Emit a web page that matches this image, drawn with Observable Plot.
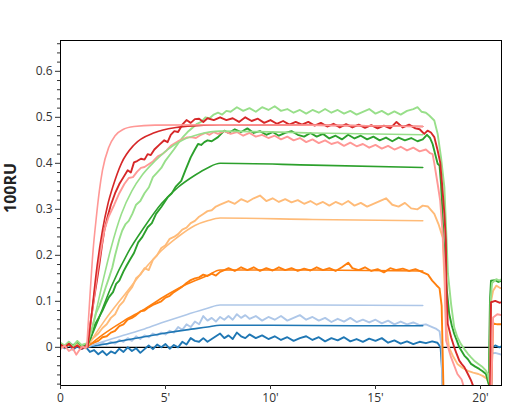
<!DOCTYPE html>
<html>
<head>
<meta charset="utf-8">
<script src="https://cdn.jsdelivr.net/npm/d3@7"></script>
<script src="https://cdn.jsdelivr.net/npm/@observablehq/plot@0.6"></script>
<style>
  html, body { margin: 0; padding: 0; background: #fff; }
  #chart svg { display: block; }
</style>
</head>
<body>
<div id="chart"></div>
<script>
// ---- Tick labels ----
const xTicks = [0, 5, 10, 15, 20];
const yTicks = [0, 0.1, 0.2, 0.3, 0.4, 0.5, 0.6];
const yMinorTicks = [-0.08,-0.06,-0.04,-0.02,0.02,0.04,0.06,0.08,0.12,0.14,0.16,0.18,0.22,0.24,0.26,0.28,0.32,0.34,0.36,0.38,0.42,0.44,0.46,0.48,0.52,0.54,0.56,0.58,0.62,0.64,0.66];
const yLabel = "100RU";

// ---- Series names and colours ----
const seriesNames = ["c1","c2","c3","c4","c5","c6","c7","c8"];
const seriesColors = ["#1f77b4","#aec7e8","#ff7f0e","#ffbb78","#2ca02c","#98df8a","#d62728","#ff9896"];

// ---- Measured responses [time (min), response (100RU)] ----
const data1 = [[0,0.004],[0.2,-0.002],[0.4,0.006],[0.6,-0.005],[0.8,0.002],[1.0,-0.004],[1.2,0.001],[1.4,-0.01],[1.6,-0.006],[1.8,-0.015],[2.0,-0.008],[2.2,-0.017],[2.4,-0.009],[2.6,-0.013],[2.8,-0.003],[3.0,-0.01],[3.2,0.0],[3.4,-0.008],[3.6,-0.002],[3.8,-0.012],[4.0,-0.004],[4.2,0.004],[4.4,-0.004],[4.6,0.006],[4.8,0.0],[5.0,0.007],[5.2,-0.003],[5.4,0.005],[5.6,0.0],[5.8,0.012],[6.0,0.006],[6.2,0.02],[6.4,0.014],[6.6,0.012],[6.8,0.02],[7.0,0.012],[7.2,0.018],[7.4,0.024],[7.6,0.03],[7.8,0.02],[8.0,0.026],[8.2,0.018],[8.4,0.032],[8.6,0.024],[8.8,0.02],[9.0,0.028],[9.3,0.02],[9.6,0.026],[9.9,0.018],[10.2,0.024],[10.5,0.016],[10.8,0.022],[11.1,0.014],[11.4,0.02],[11.7,0.024],[12.0,0.016],[12.3,0.022],[12.6,0.013],[12.9,0.02],[13.2,0.015],[13.5,0.022],[13.8,0.013],[14.1,0.018],[14.4,0.012],[14.7,0.019],[15.0,0.014],[15.3,0.02],[15.6,0.01],[15.9,0.015],[16.2,0.008],[16.5,0.013],[16.8,0.007],[17.1,0.012],[17.4,0.009],[17.7,0.013],[17.95,0.01],[18.1,0.0],[18.17,-0.05],[18.22,-0.12],[20.5,-0.12],[20.55,0.0],[20.7,0.004],[20.9,0.0],[21,0.002]];
const data2 = [[0,0.008],[0.2,0.0],[0.4,0.012],[0.6,0.004],[0.8,0.01],[1.0,0.0],[1.2,0.005],[1.4,0.002],[1.6,0.006],[1.8,0.003],[2.0,0.01],[2.2,0.006],[2.4,0.012],[2.6,0.008],[2.8,0.016],[3.0,0.012],[3.2,0.02],[3.4,0.014],[3.6,0.024],[3.8,0.018],[4.0,0.026],[4.2,0.022],[4.4,0.03],[4.6,0.026],[4.8,0.032],[5.0,0.028],[5.2,0.036],[5.4,0.032],[5.6,0.044],[5.8,0.038],[6.0,0.05],[6.2,0.044],[6.4,0.056],[6.6,0.05],[6.8,0.068],[7.0,0.058],[7.2,0.064],[7.4,0.056],[7.6,0.066],[7.8,0.06],[8.0,0.068],[8.2,0.06],[8.4,0.072],[8.6,0.064],[8.8,0.07],[9.0,0.062],[9.3,0.068],[9.6,0.058],[9.9,0.066],[10.2,0.06],[10.5,0.068],[10.8,0.058],[11.1,0.064],[11.4,0.07],[11.7,0.06],[12.0,0.066],[12.3,0.058],[12.6,0.064],[12.9,0.055],[13.2,0.062],[13.5,0.056],[13.8,0.064],[14.1,0.055],[14.4,0.06],[14.7,0.054],[15.0,0.06],[15.3,0.052],[15.6,0.058],[15.9,0.05],[16.2,0.056],[16.5,0.05],[16.8,0.054],[17.1,0.048],[17.4,0.05],[17.7,0.044],[17.9,0.04],[18.05,0.035],[18.15,0.0],[18.2,-0.12],[20.4,-0.12],[20.48,-0.014],[20.7,-0.012],[21,-0.016]];
const data3 = [[0,0.004],[0.2,0.0],[0.4,0.006],[0.6,0.0],[0.8,0.004],[1.0,-0.002],[1.2,0.002],[1.4,0.006],[1.6,0.01],[1.8,0.014],[2.0,0.022],[2.2,0.024],[2.4,0.032],[2.6,0.036],[2.8,0.046],[3.0,0.05],[3.2,0.06],[3.4,0.064],[3.6,0.07],[3.8,0.078],[4.0,0.08],[4.2,0.087],[4.4,0.092],[4.6,0.096],[4.8,0.1],[5.0,0.108],[5.2,0.112],[5.4,0.12],[5.6,0.126],[5.8,0.132],[6.0,0.14],[6.2,0.146],[6.4,0.15],[6.6,0.152],[6.8,0.158],[7.0,0.155],[7.2,0.16],[7.4,0.156],[7.6,0.164],[7.8,0.168],[8.0,0.172],[8.3,0.166],[8.6,0.174],[8.9,0.168],[9.2,0.174],[9.5,0.166],[9.8,0.172],[10.1,0.167],[10.4,0.174],[10.7,0.168],[11.0,0.172],[11.3,0.166],[11.6,0.171],[11.9,0.167],[12.2,0.174],[12.5,0.168],[12.8,0.172],[13.1,0.166],[13.4,0.174],[13.7,0.184],[13.9,0.172],[14.2,0.168],[14.5,0.174],[14.8,0.166],[15.1,0.17],[15.4,0.163],[15.7,0.172],[16.0,0.168],[16.3,0.171],[16.6,0.166],[16.9,0.17],[17.2,0.164],[17.5,0.158],[17.7,0.145],[17.9,0.135],[18.05,0.128],[18.15,0.09],[18.25,-0.12],[20.5,-0.12],[20.6,0.052],[20.8,0.05],[21,0.05]];
const data4 = [[0,0.006],[0.2,0.0],[0.4,0.01],[0.6,0.003],[0.8,0.008],[1.0,0.0],[1.2,0.004],[1.4,0.012],[1.6,0.022],[1.8,0.03],[2.0,0.042],[2.2,0.05],[2.4,0.064],[2.6,0.072],[2.8,0.09],[3.0,0.1],[3.2,0.118],[3.4,0.13],[3.6,0.15],[3.8,0.158],[4.0,0.172],[4.2,0.168],[4.4,0.19],[4.6,0.2],[4.8,0.216],[5.0,0.222],[5.2,0.236],[5.4,0.24],[5.6,0.246],[5.8,0.256],[6.0,0.26],[6.2,0.27],[6.4,0.275],[6.6,0.284],[6.8,0.29],[7.0,0.296],[7.2,0.298],[7.4,0.306],[7.6,0.31],[7.8,0.314],[8.0,0.318],[8.3,0.312],[8.6,0.322],[8.9,0.316],[9.2,0.324],[9.5,0.33],[9.8,0.318],[10.1,0.324],[10.4,0.316],[10.7,0.322],[11.0,0.315],[11.3,0.32],[11.6,0.312],[11.9,0.318],[12.2,0.31],[12.5,0.316],[12.8,0.308],[13.1,0.316],[13.4,0.31],[13.7,0.318],[14.0,0.308],[14.3,0.314],[14.6,0.306],[14.9,0.312],[15.2,0.318],[15.5,0.324],[15.8,0.31],[16.1,0.306],[16.4,0.314],[16.7,0.302],[17.0,0.3],[17.25,0.308],[17.5,0.306],[17.8,0.29],[18.0,0.268],[18.2,0.239],[18.28,0.15],[18.36,0.05],[18.5,0.0],[18.7,-0.02],[18.9,-0.036],[19.15,-0.045],[19.4,-0.051],[19.65,-0.055],[19.9,-0.058],[20.1,-0.062],[20.3,-0.068],[20.4,-0.08],[20.5,0.1],[20.6,0.123],[20.75,0.134],[20.9,0.13],[21,0.128]];
const data5 = [[0,0.008],[0.2,0.002],[0.4,0.01],[0.6,0.004],[0.8,0.012],[1.0,0.003],[1.2,0.006],[1.36,0.007],[1.5,0.03],[1.65,0.05],[1.83,0.065],[2.0,0.08],[2.15,0.095],[2.31,0.109],[2.5,0.12],[2.65,0.138],[2.8,0.145],[3.0,0.165],[3.15,0.178],[3.3,0.19],[3.5,0.205],[3.7,0.228],[3.9,0.24],[4.15,0.261],[4.35,0.27],[4.55,0.29],[4.8,0.305],[5.1,0.326],[5.3,0.335],[5.5,0.35],[5.75,0.362],[5.95,0.385],[6.2,0.413],[6.4,0.43],[6.55,0.442],[6.7,0.44],[6.85,0.446],[7.0,0.45],[7.2,0.448],[7.5,0.457],[7.8,0.471],[8.0,0.466],[8.3,0.474],[8.6,0.468],[8.9,0.476],[9.2,0.466],[9.5,0.47],[9.8,0.462],[10.1,0.468],[10.4,0.46],[10.7,0.466],[11.0,0.47],[11.3,0.462],[11.6,0.458],[11.9,0.466],[12.2,0.458],[12.5,0.464],[12.8,0.454],[13.1,0.46],[13.4,0.452],[13.7,0.462],[14.0,0.454],[14.3,0.46],[14.6,0.452],[14.9,0.458],[15.2,0.45],[15.5,0.456],[15.8,0.448],[16.1,0.456],[16.4,0.45],[16.7,0.455],[17.0,0.448],[17.25,0.452],[17.45,0.462],[17.6,0.455],[17.72,0.442],[17.88,0.413],[17.96,0.399],[18.05,0.395],[18.12,0.355],[18.25,0.232],[18.31,0.188],[18.4,0.123],[18.51,0.073],[18.63,0.048],[18.75,0.029],[18.87,0.015],[18.99,0.0],[19.1,-0.008],[19.23,-0.018],[19.4,-0.026],[19.55,-0.036],[19.75,-0.042],[19.94,-0.047],[20.1,-0.052],[20.26,-0.058],[20.39,-0.08],[20.45,0.1],[20.5,0.145],[20.7,0.146],[20.85,0.142],[21,0.145]];
const data6 = [[0,0.01],[0.2,0.004],[0.4,0.012],[0.6,0.002],[0.8,0.014],[1.0,0.005],[1.2,0.008],[1.36,0.007],[1.5,0.04],[1.7,0.075],[1.85,0.09],[2.0,0.109],[2.15,0.13],[2.3,0.15],[2.47,0.174],[2.6,0.2],[2.8,0.235],[2.94,0.254],[3.1,0.268],[3.25,0.275],[3.42,0.29],[3.6,0.31],[3.8,0.318],[4.0,0.335],[4.21,0.348],[4.4,0.37],[4.6,0.38],[4.8,0.39],[5.0,0.406],[5.2,0.418],[5.4,0.43],[5.64,0.446],[5.85,0.458],[6.05,0.468],[6.3,0.478],[6.5,0.486],[6.7,0.49],[6.9,0.5],[7.1,0.498],[7.3,0.506],[7.5,0.51],[7.7,0.506],[7.9,0.514],[8.1,0.512],[8.4,0.522],[8.7,0.514],[9.0,0.52],[9.3,0.512],[9.6,0.522],[9.9,0.516],[10.2,0.524],[10.5,0.514],[10.8,0.518],[11.1,0.51],[11.4,0.516],[11.7,0.508],[12.0,0.516],[12.3,0.51],[12.6,0.518],[12.9,0.51],[13.2,0.516],[13.5,0.508],[13.8,0.514],[14.1,0.506],[14.4,0.512],[14.7,0.518],[15.0,0.508],[15.3,0.514],[15.6,0.506],[15.9,0.513],[16.2,0.506],[16.5,0.514],[16.8,0.518],[17.0,0.522],[17.2,0.512],[17.4,0.51],[17.56,0.504],[17.8,0.493],[17.96,0.464],[18.12,0.413],[18.28,0.348],[18.36,0.26],[18.45,0.16],[18.6,0.094],[18.75,0.043],[18.9,0.022],[19.07,0.007],[19.25,-0.005],[19.4,-0.014],[19.55,-0.022],[19.7,-0.029],[19.9,-0.036],[20.1,-0.043],[20.25,-0.05],[20.34,-0.058],[20.42,-0.075],[20.48,0.1],[20.55,0.14],[20.75,0.148],[20.9,0.145],[21,0.148]];
const data7 = [[0,0.006],[0.2,0.0],[0.4,0.008],[0.6,-0.002],[0.8,0.004],[1.0,-0.003],[1.2,0.002],[1.3,0.01],[1.45,0.06],[1.61,0.11],[1.75,0.15],[1.85,0.18],[1.97,0.22],[2.09,0.255],[2.25,0.285],[2.4,0.31],[2.6,0.335],[2.8,0.355],[3.0,0.37],[3.2,0.385],[3.35,0.38],[3.5,0.402],[3.65,0.405],[3.83,0.41],[4.0,0.408],[4.15,0.42],[4.3,0.418],[4.47,0.43],[4.7,0.44],[4.94,0.45],[5.1,0.446],[5.25,0.462],[5.42,0.47],[5.6,0.468],[5.8,0.484],[6.0,0.494],[6.2,0.488],[6.4,0.496],[6.6,0.497],[6.8,0.49],[7.0,0.498],[7.3,0.494],[7.6,0.5],[7.9,0.494],[8.2,0.498],[8.5,0.49],[8.8,0.5],[9.1,0.492],[9.4,0.497],[9.7,0.488],[10.0,0.494],[10.3,0.486],[10.6,0.492],[10.9,0.484],[11.2,0.49],[11.5,0.484],[11.8,0.49],[12.1,0.482],[12.4,0.488],[12.7,0.48],[13.0,0.486],[13.3,0.478],[13.6,0.485],[13.9,0.478],[14.2,0.484],[14.5,0.477],[14.8,0.483],[15.1,0.476],[15.4,0.482],[15.7,0.476],[16.0,0.49],[16.3,0.478],[16.6,0.484],[16.9,0.476],[17.1,0.474],[17.32,0.464],[17.48,0.471],[17.64,0.467],[17.8,0.457],[17.96,0.428],[18.08,0.402],[18.17,0.355],[18.28,0.29],[18.35,0.232],[18.38,0.123],[18.44,0.051],[18.6,0.022],[18.75,0.0],[18.87,-0.015],[18.99,-0.029],[19.1,-0.036],[19.23,-0.043],[19.4,-0.058],[19.55,-0.072],[19.7,-0.09],[20.45,-0.12],[20.5,0.098],[20.7,0.101],[20.9,0.097],[21,0.098]];
const data8 = [[0,-0.004],[0.2,0.004],[0.4,-0.008],[0.6,-0.003],[0.75,-0.016],[0.9,-0.006],[1.05,0.002],[1.2,-0.002],[1.3,0.01],[1.45,0.06],[1.6,0.11],[1.77,0.17],[1.93,0.215],[2.09,0.255],[2.3,0.285],[2.56,0.31],[2.8,0.335],[3.04,0.355],[3.25,0.368],[3.45,0.37],[3.65,0.382],[3.83,0.39],[4.0,0.392],[4.2,0.398],[4.4,0.404],[4.63,0.415],[4.85,0.42],[5.05,0.428],[5.25,0.438],[5.42,0.443],[5.6,0.448],[5.8,0.452],[6.0,0.456],[6.21,0.457],[6.45,0.455],[6.69,0.462],[6.9,0.466],[7.1,0.462],[7.3,0.468],[7.5,0.464],[7.8,0.47],[8.1,0.464],[8.4,0.468],[8.7,0.46],[9.0,0.466],[9.3,0.458],[9.6,0.462],[9.9,0.455],[10.2,0.46],[10.5,0.452],[10.8,0.458],[11.1,0.45],[11.4,0.455],[11.7,0.446],[12.0,0.452],[12.3,0.444],[12.6,0.45],[12.9,0.442],[13.2,0.446],[13.5,0.438],[13.8,0.445],[14.1,0.437],[14.4,0.442],[14.7,0.434],[15.0,0.44],[15.3,0.432],[15.6,0.438],[15.9,0.43],[16.2,0.436],[16.5,0.428],[16.8,0.434],[17.1,0.426],[17.4,0.43],[17.6,0.422],[17.72,0.42],[17.8,0.4],[17.96,0.355],[18.08,0.319],[18.2,0.246],[18.3,0.16],[18.36,0.015],[18.6,-0.022],[18.9,-0.058],[19.1,-0.07],[19.3,-0.1],[20.5,-0.12],[20.6,0.065],[20.8,0.072],[21,0.07]];

// ---- Fitted curves [time (min), response (100RU)] ----
const fit1 = [[1.25,0],[2,0.006],[3,0.015],[4,0.023],[5,0.031],[6,0.038],[7,0.044],[7.6,0.048],[10,0.048],[14,0.047],[17.25,0.047]];
const fit2 = [[1.25,0],[2,0.012],[3,0.026],[4,0.04],[5,0.056],[6,0.071],[7,0.085],[7.6,0.092],[12,0.092],[17.25,0.091]];
const fit3 = [[1.25,0],[2,0.027],[3,0.057],[4,0.083],[5,0.112],[6,0.137],[7,0.156],[7.6,0.168],[12,0.168],[17.25,0.166]];
const fit4 = [[1.25,0],[2.1,0.058],[3.2,0.123],[4,0.17],[4.8,0.21],[5.5,0.237],[6.4,0.265],[7,0.275],[7.6,0.281],[12,0.278],[17.25,0.275]];
const fit5 = [[1.25,0],[1.8,0.06],[2.4,0.13],[3.2,0.205],[4,0.262],[4.8,0.312],[5.6,0.348],[6.4,0.374],[7,0.39],[7.6,0.4],[12,0.396],[17.25,0.391]];
const fit6 = [[1.25,0],[1.6,0.06],[2.0,0.14],[2.4,0.215],[2.9,0.29],[3.4,0.34],[3.9,0.375],[4.5,0.405],[5.1,0.43],[5.8,0.45],[6.6,0.463],[7.6,0.47],[12,0.466],[17.25,0.462]];
const fit7 = [[1.3,0],[1.5,0.08],[1.75,0.18],[2.0,0.255],[2.25,0.31],[2.5,0.35],[2.9,0.4],[3.5,0.44],[4.5,0.467],[5.5,0.478],[6.5,0.482],[7.6,0.484],[12,0.483],[17.25,0.48]];
const fit8 = [[1.25,0],[1.4,0.11],[1.55,0.21],[1.7,0.28],[1.85,0.34],[2.0,0.385],[2.3,0.435],[2.6,0.46],[3.0,0.474],[3.5,0.48],[4.5,0.483],[7.6,0.484],[12,0.483],[17.25,0.48]];

const measured = [data1, data2, data3, data4, data5, data6, data7, data8];
const fitted = [fit1, fit2, fit3, fit4, fit5, fit6, fit7, fit8];

const dataMarks = measured.map((arr, i) => Plot.line(arr, {
  x: d => d[0], y: d => d[1], stroke: seriesColors[i], strokeWidth: 1.9,
  strokeLinejoin: "round", clip: true
}));
const fitMarks = fitted.map((arr, i) => Plot.line(arr, {
  x: d => d[0], y: d => d[1], stroke: seriesColors[i], strokeWidth: 1.6,
  curve: "monotone-x", clip: true
}));

const chart = Plot.plot({
  width: 505,
  height: 415,
  marginLeft: 60,
  marginRight: 4,
  marginTop: 40,
  marginBottom: 30,
  style: { fontFamily: "'Open Sans', 'Noto Sans', sans-serif", fontSize: "12px", color: "#333", background: "#fff" },
  x: { domain: [0, 21] },
  y: { domain: [-0.083, 0.667] },
  marks: [
    Plot.ruleY([0], { stroke: "#000", strokeWidth: 1.2 }),
    ...dataMarks,
    ...fitMarks,
    Plot.frame({ stroke: "#000", strokeWidth: 1 }),
    Plot.axisX({ ticks: xTicks, tickSize: 4, tickPadding: 4, label: null,
      tickFormat: d => d === 0 ? "0" : d + "'" }),
    Plot.axisY({ ticks: yTicks, tickSize: 5, tickPadding: 3, label: null,
      tickFormat: d => d === 0 ? "0" : d3.format(".1f")(d) }),
    Plot.axisY({ ticks: yMinorTicks, tickSize: 3, label: null, tickFormat: () => "" }),
    Plot.text([yLabel], { text: d => d, frameAnchor: "left", dx: -50, rotate: -90,
      fontWeight: "bold", fontSize: 16, fill: "#222" })
  ]
});
document.getElementById("chart").appendChild(chart);
</script>
</body>
</html>
